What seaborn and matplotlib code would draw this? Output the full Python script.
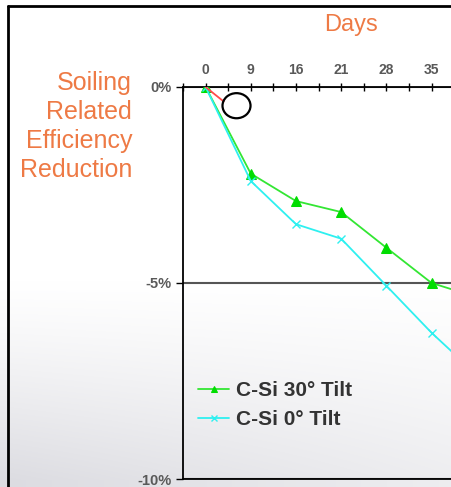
import numpy as np
import pandas as pd
import matplotlib
matplotlib.use("Agg")
import matplotlib.pyplot as plt
from matplotlib.lines import Line2D
from matplotlib.patches import Ellipse
import seaborn as sns

# ---- data ----
days = [0, 9, 16, 21, 28, 35, 42]
tilt30 = [0.0, -2.21, -2.91, -3.19, -4.10, -5.00, -5.36]
tilt0 = [0.0, -2.40, -3.50, -3.87, -5.07, -6.27, -7.34]
series_names = ["C-Si 30° Tilt", "C-Si 0° Tilt"]
red_x = [0.0, 0.40]
red_y = [0.0, -0.37]
ytick_vals = [0, -5, -10]
ytick_labels = ["0%", "-5%", "-10%"]

sns.set_style("white")
plt.rcParams["font.family"] = ["Liberation Sans", "DejaVu Sans"]

W, H = 451, 487
fig = plt.figure(figsize=(W / 100, H / 100), dpi=100)

# background gradient (screenshot shading)
bg = fig.add_axes([0, 0, 1, 1], zorder=-5)
yy, xx = np.mgrid[0:H, 0:W]
d = 35 * np.clip((yy - 280) / 200.0, 0, 1) ** 1.2 * (1 - 0.5 * xx / W)
img = np.dstack([255 - d, 255 - d, 255 - 0.85 * d]) / 255.0
bg.imshow(img, aspect="auto", extent=[0, 1, 0, 1], origin="upper")
bg.set_axis_off()

# main axes
ax = fig.add_axes([183 / W, 8 / H, 1 - 183 / W, (479 - 87) / H])
ax.set_facecolor("none")

idx = list(range(len(days)))
df = pd.DataFrame({
    "pos": idx + idx,
    "val": tilt30 + tilt0,
    "series": [series_names[0]] * len(days) + [series_names[1]] * len(days),
})
palette = {series_names[0]: "#33e633", series_names[1]: "#2ef0f0"}

sns.lineplot(data=df[df.series == series_names[0]], x="pos", y="val",
             color=palette[series_names[0]], marker="^", markersize=6.5,
             markeredgecolor="#00dd00", markerfacecolor="#00dd00",
             linewidth=1.3, ax=ax, label=series_names[0], zorder=3)
sns.lineplot(data=df[df.series == series_names[1]], x="pos", y="val",
             color=palette[series_names[1]], marker="x", markersize=6,
             markeredgewidth=1.0, markeredgecolor="#2ef0f0",
             linewidth=1.3, ax=ax, label=series_names[1], zorder=4)
sns.lineplot(x=red_x, y=red_y, color="#ff4a4a", linewidth=1.3, ax=ax,
             legend=False, zorder=5)

ax.set_xlabel("")
ax.set_ylabel("")

# x axis on top
ax.xaxis.tick_top()
ax.set_xticks(idx)
ax.set_xticklabels([str(d_) for d_ in days])
ax.set_xticks([i + 0.5 for i in range(-1, len(days))], minor=True)
ax.tick_params(axis="x", which="both", direction="inout", length=6, width=1,
               color="black", top=True, bottom=False, pad=4)
ax.tick_params(axis="x", which="major", labelsize=10, labelcolor="#595959")
for t in ax.get_xticklabels():
    t.set_fontweight("bold")

ax.set_yticks(ytick_vals)
ax.set_yticklabels(ytick_labels)
ax.tick_params(axis="y", direction="out", length=5, width=1, color="black",
               left=True, labelsize=10.5, labelcolor="#595959", pad=3)
for t in ax.get_yticklabels():
    t.set_fontweight("bold")

ax.yaxis.grid(True, color="#555555", linewidth=1.5)
ax.xaxis.grid(False)
ax.set_axisbelow(True)

for s in ["top", "left", "bottom"]:
    ax.spines[s].set_visible(True)
    ax.spines[s].set_color("black")
    ax.spines[s].set_linewidth(1.3)
ax.spines["right"].set_visible(False)

# annotation ellipse
ax.add_patch(Ellipse((0.684, -0.477), 0.62, 0.64, fill=False,
                     edgecolor="black", linewidth=1.6, zorder=6, clip_on=False))

# limits last (set_ticks may expand them)
ax.set_xlim(-0.5, 5.43)
ax.set_ylim(-10, 0)

# legend
leg = ax.legend(loc="upper left", bbox_to_anchor=(198 / W, (H - 381) / H),
                bbox_transform=fig.transFigure, frameon=False,
                prop={"weight": "bold", "size": 15}, handlelength=1.5,
                handletextpad=0.3, labelspacing=0.5, borderpad=0,
                borderaxespad=0, markerscale=0.7)
for t in leg.get_texts():
    t.set_color("#333333")

# orange titles
orange = "#EE7A45"
fig.text(351 / W, (H - 31) / H, "Days", color=orange, fontsize=17,
         ha="center", va="baseline")
fig.text(132 / W, (H - 177) / H, "Soiling\nRelated\nEfficiency\nReduction",
         color=orange, fontsize=18, ha="right", va="baseline",
         multialignment="right", linespacing=1.26)

# outer slide frame
fig.add_artist(Line2D([8 / W, 8 / W], [0, (H - 6) / H], color="black",
                      linewidth=2, transform=fig.transFigure))
fig.add_artist(Line2D([8 / W, 1], [(H - 6) / H, (H - 6) / H], color="black",
                      linewidth=2, transform=fig.transFigure))

fig.savefig("out.png", dpi=100)
